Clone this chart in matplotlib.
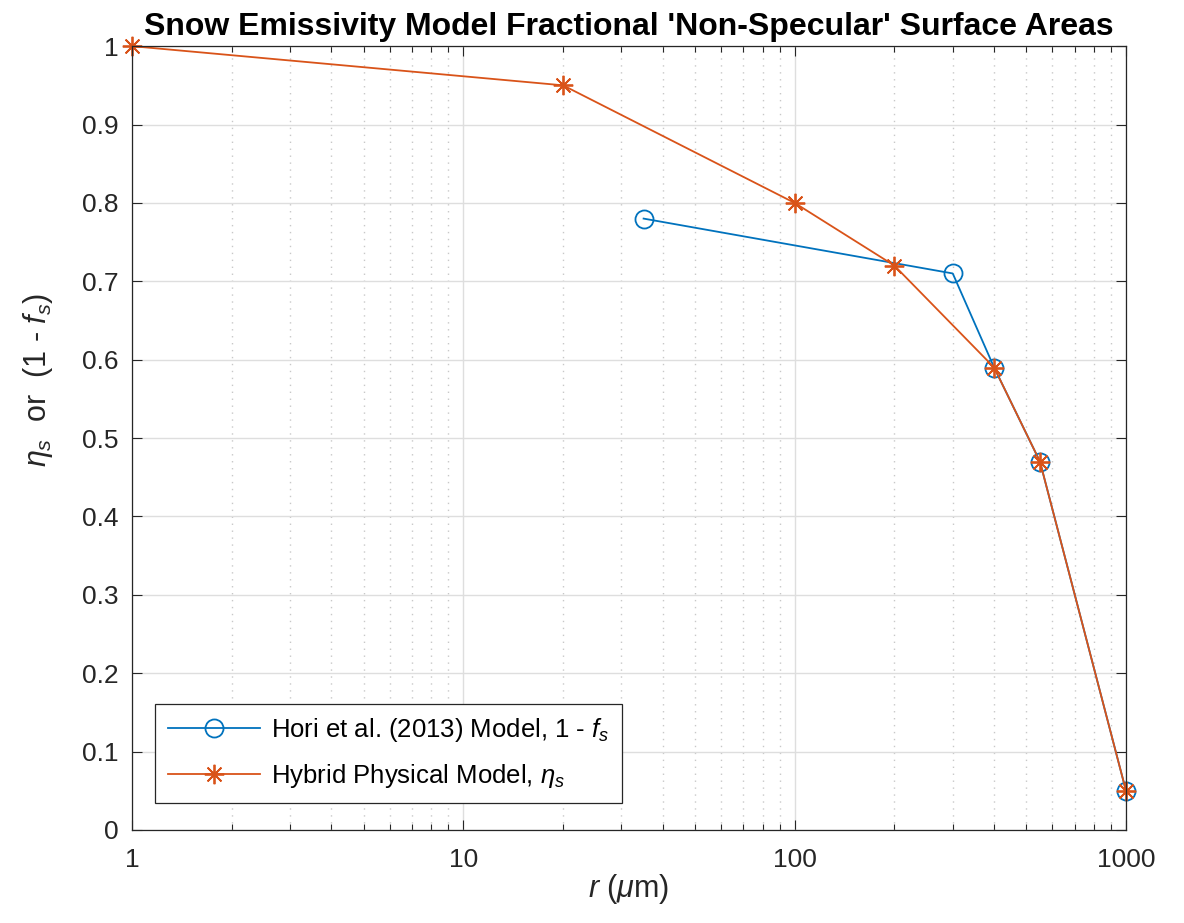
import matplotlib
matplotlib.use("Agg")
import matplotlib.pyplot as plt
from matplotlib.ticker import FixedLocator, FixedFormatter, LogLocator, NullFormatter

plt.rcParams['font.family'] = ['Liberation Sans', 'DejaVu Sans']
plt.rcParams['mathtext.fontset'] = 'custom'
plt.rcParams['mathtext.rm'] = 'Liberation Sans'
plt.rcParams['mathtext.it'] = 'Liberation Sans:italic'
plt.rcParams['mathtext.bf'] = 'Liberation Sans:bold'

# data
hori_r = [35, 300, 400, 550, 1000]
hori_val = [0.78, 0.71, 0.59, 0.47, 0.05]
hybrid_r = [1, 20, 100, 200, 400, 550, 1000]
hybrid_val = [1.0, 0.95, 0.80, 0.72, 0.59, 0.47, 0.05]

x_ticks = [1, 10, 100, 1000]
x_labels = ['1', '10', '100', '1000']
y_ticks = [0, 0.1, 0.2, 0.3, 0.4, 0.5, 0.6, 0.7, 0.8, 0.9, 1]
y_labels = ['0', '0.1', '0.2', '0.3', '0.4', '0.5', '0.6', '0.7', '0.8', '0.9', '1']

blue = '#0072BD'
orange = '#D95319'

fig = plt.figure(figsize=(11.84, 9.23), dpi=100, facecolor='white')
ax = fig.add_axes([0.1115, 0.1008, 0.8395, 0.8492])

ax.plot(hori_r, hori_val, '-', color=blue, lw=1.3, marker='o', ms=13,
        mfc='none', mec=blue, mew=1.3, clip_on=False,
        label=r'Hori et al. (2013) Model, 1 - $f_s$')
ax.plot(hybrid_r, hybrid_val, '-', color=orange, lw=1.3, marker=(8, 2, 0), ms=14,
        mec=orange, mew=1.3, clip_on=False,
        label=r'Hybrid Physical Model, $\eta_s$')

ax.set_xscale('log')
ax.set_xlim(1, 1000)
ax.set_ylim(0, 1)
ax.xaxis.set_major_locator(FixedLocator(x_ticks))
ax.xaxis.set_major_formatter(FixedFormatter(x_labels))
ax.xaxis.set_minor_locator(LogLocator(base=10, subs=range(2, 10)))
ax.xaxis.set_minor_formatter(NullFormatter())
ax.yaxis.set_major_locator(FixedLocator(y_ticks))
ax.yaxis.set_major_formatter(FixedFormatter(y_labels))

ax.tick_params(which='both', direction='in', top=True, right=True,
               labelsize=19, colors='#262626', labelcolor='#262626')
ax.tick_params(which='major', length=7, width=0.8)
ax.tick_params(which='minor', length=4, width=0.8)
ax.tick_params(axis='x', which='major', pad=13)
ax.tick_params(axis='y', which='major', pad=10)
for s in ax.spines.values():
    s.set_color('#262626')
    s.set_linewidth(0.9)

ax.grid(True, which='major', color='#dedede', lw=1.0, ls='-')
ax.grid(True, which='minor', axis='x', color='#c8c8c8', lw=1.0, ls=(0, (1, 4)))
ax.set_axisbelow(True)

ax.set_title("Snow Emissivity Model Fractional 'Non-Specular' Surface Areas",
             fontsize=23, fontweight='bold', pad=8)
ax.set_xlabel(r'$r$ ($\mu$m)', fontsize=22, color='#262626', labelpad=0)
ax.set_ylabel(r'$\eta_s$  or  (1 - $f_s$)', fontsize=22, color='#262626')
ax.yaxis.set_label_coords(-0.077, 0.574)

leg = ax.legend(loc='lower left', bbox_to_anchor=(0.023, 0.034), borderaxespad=0,
                fontsize=18.5, handlelength=3.6, fancybox=False, edgecolor='#262626',
                framealpha=1, borderpad=0.5, labelspacing=0.7, handletextpad=0.4)
leg.get_frame().set_linewidth(0.9)

fig.savefig('out.png', dpi=100, facecolor='white')
